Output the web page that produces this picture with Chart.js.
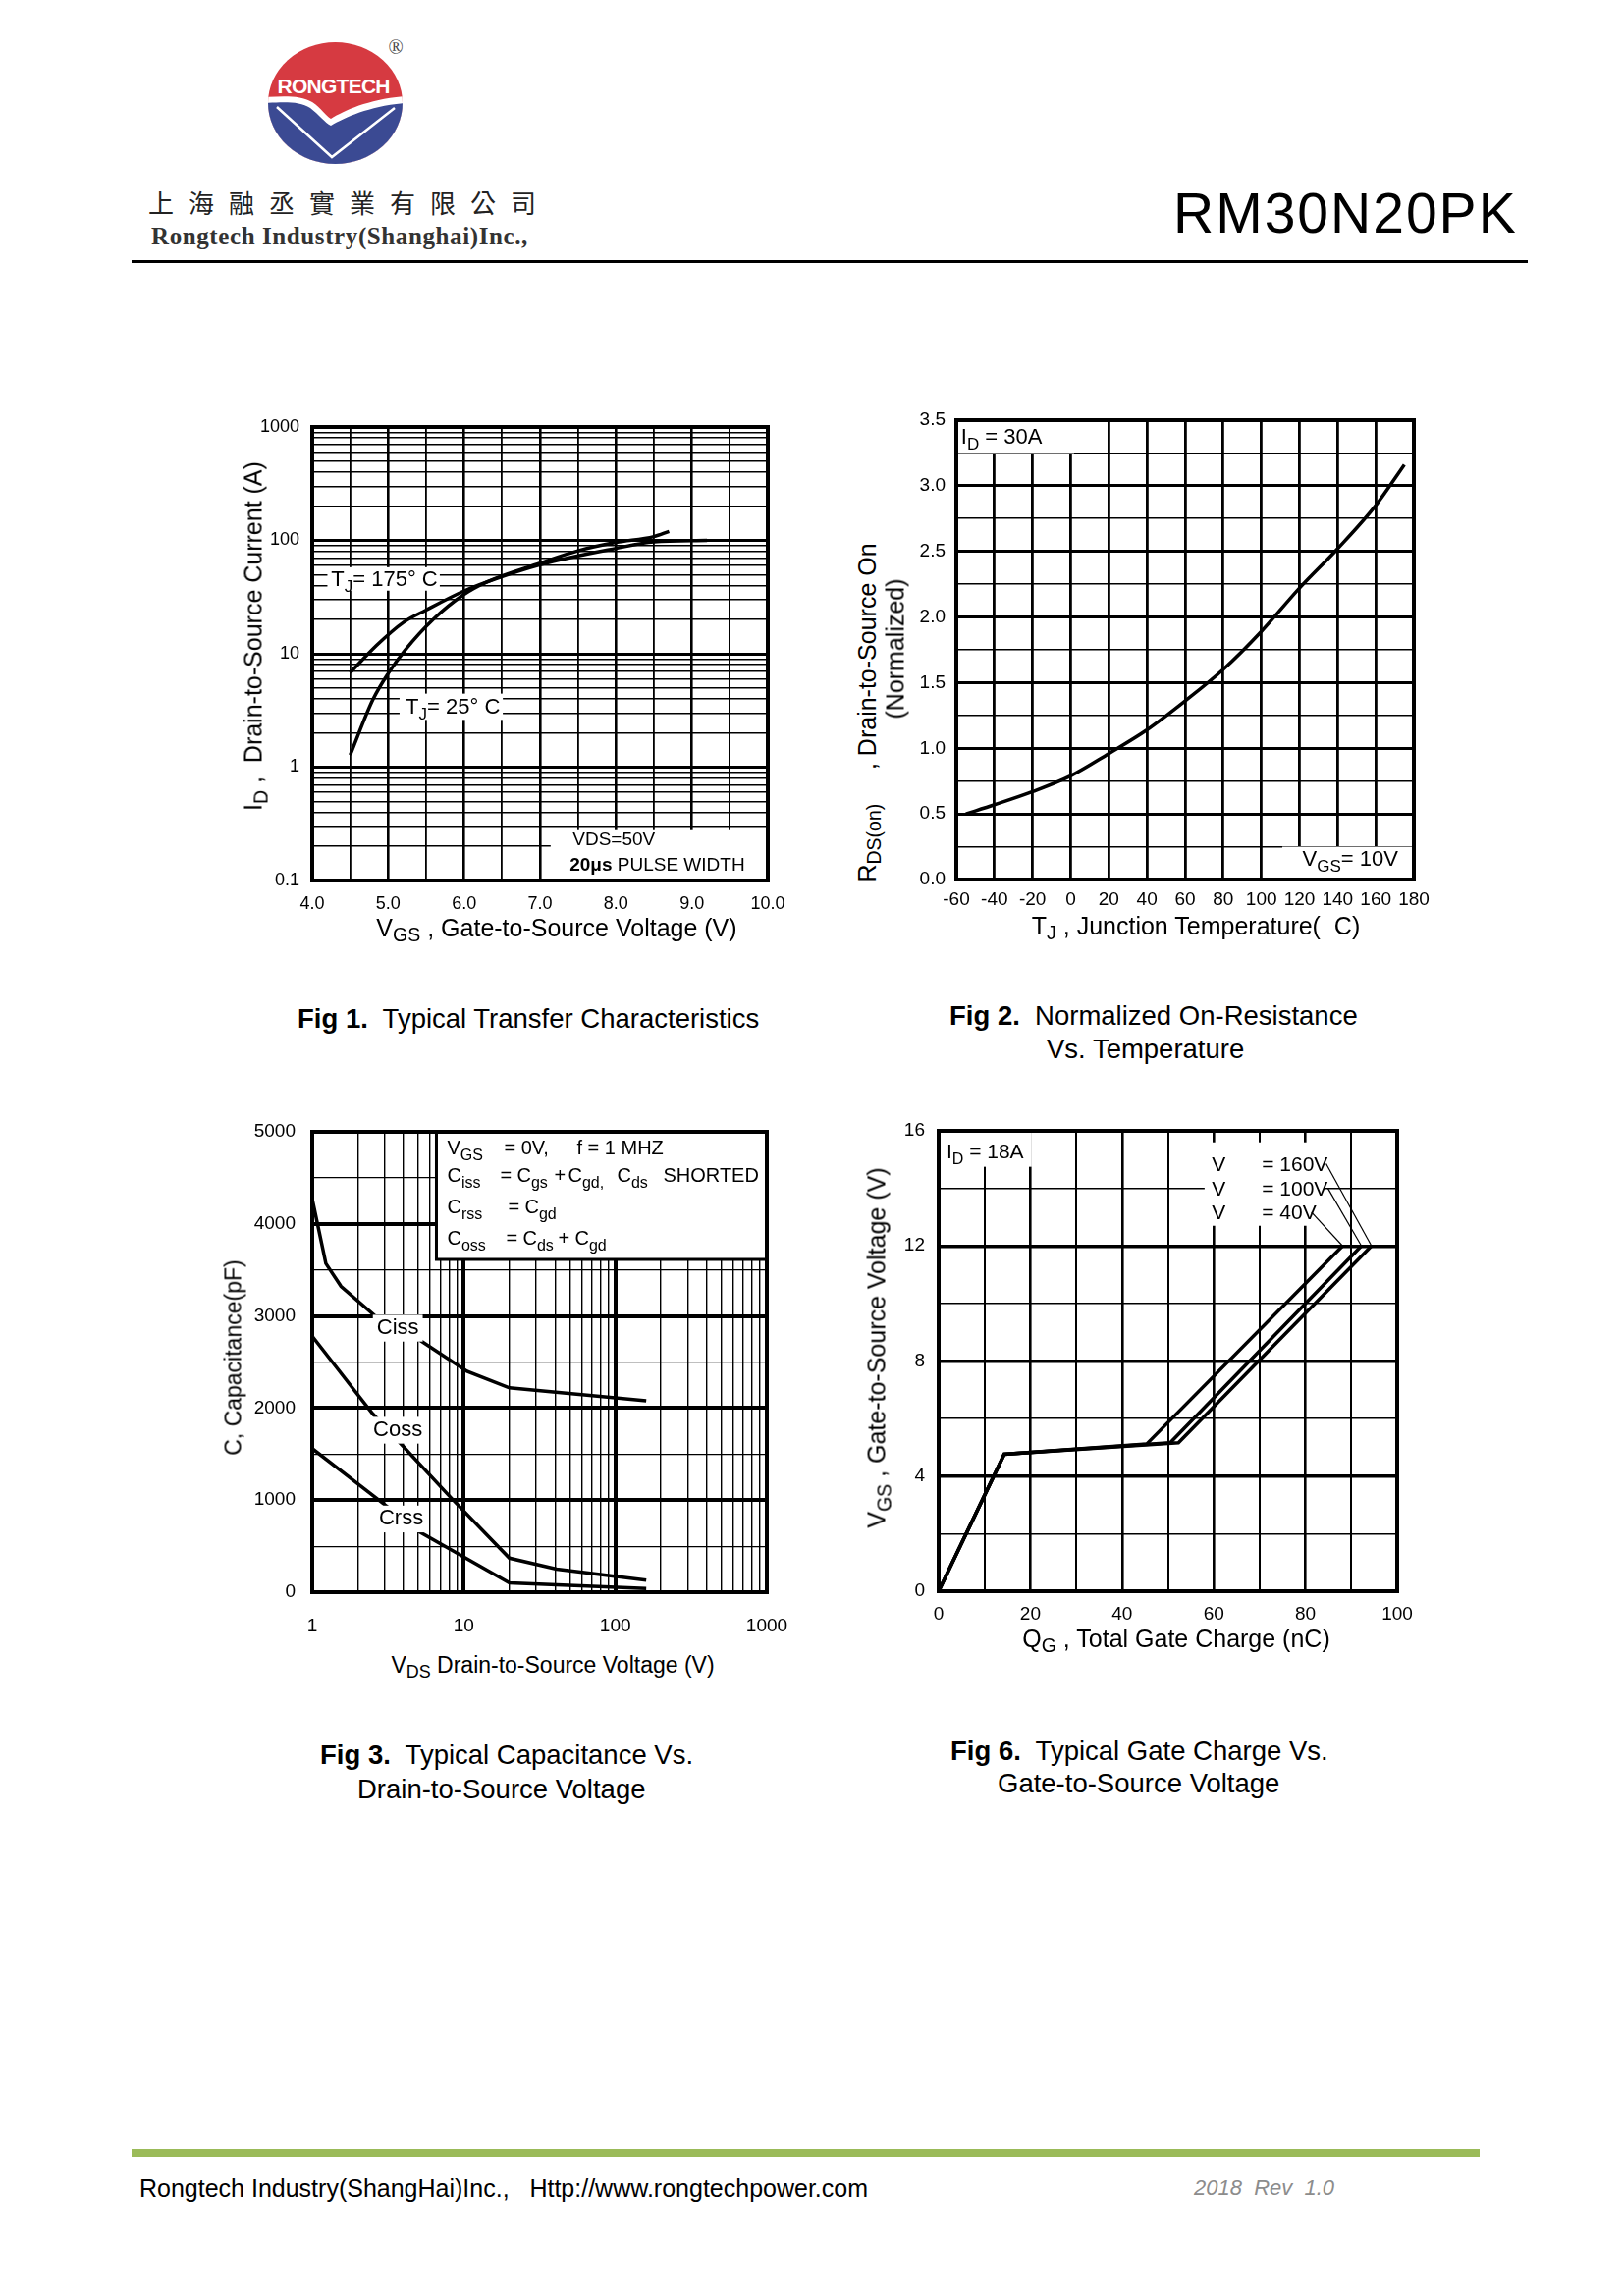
<!DOCTYPE html>
<html lang="en">
<head>
<meta charset="utf-8">
<title>RM30N20PK typical characteristics</title>
<script src="https://cdn.jsdelivr.net/npm/chart.js@4.4.1/dist/chart.umd.min.js"></script>
<style>
  html, body { margin: 0; padding: 0; background: #fff; }
  #page { position: relative; width: 1653px; height: 2339px; overflow: hidden;
          font-family: "Liberation Sans", Arial, sans-serif; color: #000; }
  .abs { position: absolute; white-space: nowrap; line-height: 1; }
  .rot { transform: translate(-50%, -50%) rotate(-90deg); }
  .ctr { transform: translate(-50%, -50%); }
  canvas { position: absolute; }
  sub { font-size: 0.78em; vertical-align: -0.3em; line-height: 0; }
  .cap { font-size: 27.5px; }
  .axt { font-size: 25px; }
</style>
</head>
<body>
<div id="page">

  <!-- header -->
  <svg class="abs" style="left:260px;top:30px" width="170" height="150" viewBox="260 30 170 150">
    <defs><clipPath id="disc"><ellipse cx="341.5" cy="105" rx="68.5" ry="62"/></clipPath></defs>
    <g clip-path="url(#disc)">
      <rect x="260" y="30" width="170" height="150" fill="#d63a41"/>
      <path d="M268 99 C290 98 306 97 318 104 C327 110 332 118 337 121 C352 112 376 101 414 98 L414 180 L268 180 Z" fill="#fff"/>
      <path d="M268 105 C290 104 305 103 316 110 C325 117 331 125 337 128 C353 119 377 108 414 105 L414 180 L268 180 Z" fill="#3b4a93"/>
      <path d="M282 109 L338 160 L402 110" fill="none" stroke="#fff" stroke-width="2.5"/>
    </g>
    <text x="340" y="95" text-anchor="middle" font-family="Liberation Sans" font-weight="bold" font-size="21" textLength="115" fill="#fff">RONGTECH</text>
    <text x="403" y="55" text-anchor="middle" font-family="Liberation Serif" font-size="20" fill="#444">®</text>
  </svg>
  <div class="abs" style="left:151px;top:193px;font-size:26px;letter-spacing:15px;font-family:'Noto Sans CJK TC';color:#222">上海融丞實業有限公司</div>
  <div class="abs" style="left:154px;top:228px;font-size:25px;letter-spacing:0.6px;font-family:'Liberation Serif',serif;font-weight:bold;color:#333">Rongtech Industry(Shanghai)Inc.,</div>
  <div class="abs" style="left:1195px;top:189px;font-size:57px;letter-spacing:2px">RM30N20PK</div>
  <div class="abs" style="left:134px;top:265px;width:1422px;height:3px;background:#000"></div>

  <!-- charts -->
  <canvas id="fig1" width="594" height="537" style="left:238px;top:405px"></canvas>
  <canvas id="fig2" width="586" height="543" style="left:904px;top:398px"></canvas>
  <canvas id="fig3" width="593" height="554" style="left:238px;top:1123px"></canvas>
  <canvas id="fig6" width="587" height="544" style="left:886px;top:1122px"></canvas>

  <!-- axis titles -->
  <div class="abs rot axt" style="left:258px;top:648px">I<sub>D</sub> ,&nbsp; Drain-to-Source Current (A)</div>
  <div class="abs ctr axt" style="left:567px;top:945px">V<sub>GS</sub> , Gate-to-Source Voltage (V)</div>
  <div class="abs rot axt" style="left:883px;top:726px">R<sub>DS(on)</sub>&nbsp;&nbsp;&nbsp;&nbsp; , Drain-to-Source On</div>
  <div class="abs rot axt" style="left:912px;top:661px">(Normalized)</div>
  <div class="abs ctr axt" style="left:1218px;top:943px">T<sub>J</sub> , Junction Temperature(&nbsp; C)</div>
  <div class="abs rot" style="left:238px;top:1383px;font-size:23px">C, Capacitance(pF)</div>
  <div class="abs ctr" style="left:563px;top:1696px;font-size:23px">V<sub>DS</sub> Drain-to-Source Voltage (V)</div>
  <div class="abs rot axt" style="left:893px;top:1373px">V<sub>GS</sub> , Gate-to-Source Voltage (V)</div>
  <div class="abs ctr axt" style="left:1198px;top:1669px">Q<sub>G</sub> , Total Gate Charge (nC)</div>

  <!-- captions -->
  <div class="abs cap" style="left:303px;top:1024px"><b>Fig 1.</b>&nbsp; Typical Transfer Characteristics</div>
  <div class="abs cap" style="left:967px;top:1021px"><b>Fig 2.</b>&nbsp; Normalized On-Resistance</div>
  <div class="abs cap" style="left:1066px;top:1055px">Vs. Temperature</div>
  <div class="abs cap" style="left:326px;top:1774px"><b>Fig 3.</b>&nbsp; Typical Capacitance Vs.</div>
  <div class="abs cap" style="left:364px;top:1809px">Drain-to-Source Voltage</div>
  <div class="abs cap" style="left:968px;top:1770px"><b>Fig 6.</b>&nbsp; Typical Gate Charge Vs.</div>
  <div class="abs cap" style="left:1016px;top:1803px">Gate-to-Source Voltage</div>

  <!-- footer -->
  <div class="abs" style="left:134px;top:2189px;width:1373px;height:8px;background:#9bbb59"></div>
  <div class="abs" style="left:142px;top:2217px;font-size:25px">Rongtech Industry(ShangHai)Inc.,&nbsp;&nbsp; Http://www.rongtechpower.com</div>
  <div class="abs" style="left:1216px;top:2218px;font-size:22px;font-style:italic;color:#8c8c8c">2018&nbsp; Rev&nbsp; 1.0</div>
</div>

<script>
// Fig 1 - transfer characteristics (log current)
const vgsHot = [4.5, 4.85, 5.2, 5.5, 6.0, 6.3, 7.0, 8.0, 8.5, 9.2];
const idHot = [6.8, 11.9, 18.9, 24.3, 35.8, 43, 61, 85, 97, 100];
const vgsCold = [4.5, 4.8, 5.0, 5.22, 5.6, 6.0, 6.3, 7.0, 7.5, 8.0, 8.5, 8.7];
const idCold = [1.28, 3.95, 6.7, 10.7, 20.3, 33.4, 43, 63, 81, 96, 108, 120];
const vgsTickLabels = ['4.0', '5.0', '6.0', '7.0', '8.0', '9.0', '10.0'];
const idTickLabels = ['0.1', '1', '10', '100', '1000'];

// Fig 2 - normalized on-resistance vs temperature
const tjC = [-55, -40, -20, 0, 20, 40, 60, 80, 100, 120, 140, 160, 175];
const rdsNorm = [0.50, 0.57, 0.67, 0.79, 0.96, 1.14, 1.36, 1.60, 1.89, 2.22, 2.52, 2.85, 3.16];
const tjTickLabels = ['-60', '-40', '-20', '0', '20', '40', '60', '80', '100', '120', '140', '160', '180'];
const rdsTickLabels = ['0.0', '0.5', '1.0', '1.5', '2.0', '2.5', '3.0', '3.5'];

// Fig 3 - capacitance vs VDS
const cissV = [1, 1.23, 1.55, 2.6, 5.1, 10.5, 20, 65, 160];
const ciss = [4270, 3570, 3320, 3000, 2740, 2400, 2220, 2140, 2080];
const cossV = [1, 2.5, 4, 8.3, 20, 41, 160];
const coss = [2780, 1940, 1580, 1020, 370, 250, 130];
const crssV = [1, 2.66, 5.1, 8.8, 20, 160];
const crss = [1560, 1020, 655, 435, 100, 40];
const vdsTickLabels = ['1', '10', '100', '1000'];
const capTickLabels = ['0', '1000', '2000', '3000', '4000', '5000'];

// Fig 6 - gate charge (VDS = 40 / 100 / 160 V)
const qg40 = [0, 14.3, 45.4, 88.1];
const vg40 = [0, 4.76, 5.12, 12];
const qg100 = [0, 14.3, 50.5, 92.2];
const vg100 = [0, 4.76, 5.16, 12];
const qg160 = [0, 14.3, 52.3, 94.4];
const vg160 = [0, 4.76, 5.16, 12];
const leadStartQ = [81.3, 84.9, 84.5];   // 40V, 100V, 160V label ends
const leadStartV = [13.17, 14.0, 14.86];
const qgTickLabels = ['0', '20', '40', '60', '80', '100'];
const vgTickLabels = ['0', '4', '8', '12', '16'];

const FONT = '"Liberation Sans", Arial, sans-serif';
Chart.defaults.font.family = FONT;
Chart.defaults.color = '#000';

// gridline positions
function logGrid(fromExp, toExp) {
    const out = [];
    for (let e = fromExp; e < toExp; e++) {
        for (let m = 1; m < 10; m++) out.push(Number((m * Math.pow(10, e)).toPrecision(6)));
    }
    out.push(Math.pow(10, toExp));
    return out;
}
function steps(from, to, step) {
    const out = [];
    for (let v = from; v <= to + step / 1000; v += step) out.push(Number(v.toFixed(6)));
    return out;
}
const isDecade = v => Math.abs(Math.log10(v) - Math.round(Math.log10(v))) < 1e-9;

function labelFor(list, v) {
    const hit = list.find(s => Math.abs(parseFloat(s) - v) < 1e-6 * Math.max(1, Math.abs(v)));
    return hit === undefined ? '' : hit;
}

function series(xs, ys, width, smooth) {
    return {
        data: xs.map((x, i) => ({ x: x, y: ys[i] })),
        showLine: true,
        borderColor: '#000',
        borderWidth: width,
        pointRadius: 0,
        fill: false,
        tension: 0,
        cubicInterpolationMode: smooth ? 'monotone' : 'default'
    };
}

function axis(a, dir) {
    return {
        type: a.log ? 'logarithmic' : 'linear',
        min: a.min,
        max: a.max,
        afterBuildTicks: s => { s.ticks = a.grid.map(v => ({ value: v })); },
        afterFit: s => { if (dir === 'x') s.height = a.size; else s.width = a.size; },
        border: { display: false },
        grid: {
            color: '#000',
            drawTicks: false,
            lineWidth: c => (c.tick ? a.weight(c.tick.value) : 1)
        },
        ticks: {
            autoSkip: false, maxRotation: 0, minRotation: 0,
            padding: a.pad, color: '#000',
            font: { size: a.font },
            callback: v => labelFor(a.labels, v)
        }
    };
}

// plot frame on top of everything
function frame(c, w) {
    const { ctx, chartArea: a } = c;
    ctx.save();
    ctx.strokeStyle = '#000';
    ctx.lineWidth = w;
    ctx.strokeRect(a.left, a.top, a.right - a.left, a.bottom - a.top);
    ctx.restore();
}

// white patch given in data units
function blank(c, x0, y0, x1, y1) {
    const { ctx, scales: { x, y } } = c;
    const px0 = x.getPixelForValue(x0), px1 = x.getPixelForValue(x1);
    const py0 = y.getPixelForValue(y0), py1 = y.getPixelForValue(y1);
    ctx.save();
    ctx.fillStyle = '#fff';
    ctx.fillRect(Math.min(px0, px1), Math.min(py0, py1), Math.abs(px1 - px0), Math.abs(py1 - py0));
    ctx.restore();
}

// text with subscripts: parts = [[text, 'sub'|'bold'|undefined], ...]
function rich(ctx, x, y, parts, size) {
    ctx.save();
    ctx.fillStyle = '#000';
    ctx.textAlign = 'left';
    ctx.textBaseline = 'alphabetic';
    for (const [t, kind] of parts) {
        const s = kind === 'sub' ? Math.round(size * 0.78) : size;
        ctx.font = (kind === 'bold' ? 'bold ' : '') + s + 'px ' + FONT;
        ctx.fillText(t, x, kind === 'sub' ? y + size * 0.28 : y);
        x += ctx.measureText(t).width;
    }
    ctx.restore();
    return x;
}
function say(c, xv, yv, parts, size) {
    rich(c.ctx, c.scales.x.getPixelForValue(xv), c.scales.y.getPixelForValue(yv), parts, size);
}

// label centred on a data point, on a white patch that hides what is under it
function tag(c, xv, yv, text, size) {
    const ctx = c.ctx;
    const px = c.scales.x.getPixelForValue(xv), py = c.scales.y.getPixelForValue(yv);
    ctx.save();
    ctx.font = size + 'px ' + FONT;
    const w = ctx.measureText(text).width;
    ctx.fillStyle = '#fff';
    ctx.fillRect(px - w / 2 - 4, py - size * 0.62, w + 8, size * 1.24);
    ctx.fillStyle = '#000';
    ctx.textAlign = 'center';
    ctx.textBaseline = 'middle';
    ctx.fillText(text, px, py);
    ctx.restore();
}

// padding is kept larger than the scales' own label padding so the plot box lands exactly
function buildChart(id, cfg) {
    return new Chart(document.getElementById(id), {
        type: 'scatter',
        data: { datasets: cfg.datasets },
        options: {
            responsive: false,
            animation: false,
            events: [],
            layout: { padding: { top: 30, right: 50, left: 0, bottom: 0 }, autoPadding: false },
            plugins: { legend: { display: false }, tooltip: { enabled: false } },
            scales: { x: axis(cfg.x, 'x'), y: axis(cfg.y, 'y') }
        },
        plugins: [{
            id: 'notes',
            beforeDatasetsDraw: c => { if (cfg.under) cfg.under(c); },
            afterDatasetsDraw: c => { if (cfg.over) cfg.over(c); frame(c, 4); }
        }]
    });
}

// Fig 1
buildChart('fig1', {
    datasets: [series(vgsHot, idHot, 3.5, true), series(vgsCold, idCold, 3.5, true)],
    x: { min: 4, max: 10, grid: steps(4, 10, 0.5), labels: vgsTickLabels, size: 45, pad: 13, font: 18,
         weight: v => (Number.isInteger(v) ? 2.6 : 1.8) },
    y: { log: true, min: 0.1, max: 1000, grid: logGrid(-1, 3), labels: idTickLabels, size: 80, pad: 13, font: 18,
         weight: v => (isDecade(v) ? 3 : 1.5) },
    under: c => {
        blank(c, 4.2, 36, 5.68, 58);
        blank(c, 5.15, 2.61, 6.51, 4.45);
        blank(c, 7.14, 0.1, 10, 0.278);
        say(c, 4.25, 39.8, [['T'], ['J', 'sub'], ['= 175° C']], 22);
        say(c, 5.23, 2.96, [['T'], ['J', 'sub'], ['= 25° C']], 22);
        say(c, 7.43, 0.206, [['VDS=50V']], 19);
        say(c, 7.39, 0.121, [['20μs', 'bold'], [' PULSE WIDTH']], 19);
    }
});

// Fig 2
buildChart('fig2', {
    datasets: [series(tjC, rdsNorm, 3.5, true)],
    x: { min: -60, max: 180, grid: steps(-60, 180, 20), labels: tjTickLabels, size: 45, pad: 9, font: 19,
         weight: () => 2.8 },
    y: { min: 0, max: 3.5, grid: steps(0, 3.5, 0.25), labels: rdsTickLabels, size: 70, pad: 11, font: 19,
         weight: v => (Math.abs(v * 2 - Math.round(v * 2)) < 1e-9 ? 3 : 1.6) },
    under: c => {
        blank(c, -60, 3.25, 1.8, 3.5);
        blank(c, 111, 0, 180, 0.25);
        say(c, -57.5, 3.32, [['I'], ['D', 'sub'], [' = 30A']], 22);
        say(c, 121.6, 0.104, [['V'], ['GS', 'sub'], ['= 10V']], 22);
    }
});

// Fig 3
buildChart('fig3', {
    datasets: [series(cissV, ciss, 3.5, false), series(cossV, coss, 3.5, false), series(crssV, crss, 3.5, false)],
    x: { log: true, min: 1, max: 1000, grid: logGrid(0, 3), labels: vdsTickLabels, size: 55, pad: 23, font: 19,
         weight: v => (isDecade(v) && v > 1 && v < 1000 ? 4 : 1.4) },
    y: { min: 0, max: 5000, grid: steps(0, 5000, 500), labels: capTickLabels, size: 80, pad: 17, font: 19,
         weight: v => (v % 1000 === 0 ? 4 : 1.2) },
    under: c => {
        const ctx = c.ctx;
        const bx = c.scales.x.getPixelForValue(6.6), by = c.scales.y.getPixelForValue(5000);
        const bx1 = c.scales.x.getPixelForValue(1000), by1 = c.scales.y.getPixelForValue(3614);
        ctx.save();
        ctx.fillStyle = '#fff';
        ctx.fillRect(bx, by, bx1 - bx, by1 - by);
        ctx.strokeStyle = '#000';
        ctx.lineWidth = 3;
        ctx.strokeRect(bx, by, bx1 - bx, by1 - by);
        ctx.restore();
        const f = 20;
        rich(ctx, bx + 11, by + 23, [['V'], ['GS', 'sub']], f);
        rich(ctx, bx + 69, by + 23, [['= 0V,']], f);
        rich(ctx, bx + 143, by + 23, [['f = 1 MHZ']], f);
        rich(ctx, bx + 11, by + 51, [['C'], ['iss', 'sub']], f);
        rich(ctx, bx + 65, by + 51, [['=']], f);
        rich(ctx, bx + 82, by + 51, [['C'], ['gs', 'sub']], f);
        rich(ctx, bx + 120, by + 51, [['+']], f);
        rich(ctx, bx + 134, by + 51, [['C'], ['gd,', 'sub']], f);
        rich(ctx, bx + 184, by + 51, [['C'], ['ds', 'sub']], f);
        rich(ctx, bx + 231, by + 51, [['SHORTED']], f);
        rich(ctx, bx + 11, by + 83, [['C'], ['rss', 'sub']], f);
        rich(ctx, bx + 73, by + 83, [['=']], f);
        rich(ctx, bx + 90, by + 83, [['C'], ['gd', 'sub']], f);
        rich(ctx, bx + 11, by + 115, [['C'], ['oss', 'sub']], f);
        rich(ctx, bx + 71, by + 115, [['=']], f);
        rich(ctx, bx + 88, by + 115, [['C'], ['ds', 'sub']], f);
        rich(ctx, bx + 124, by + 115, [['+']], f);
        rich(ctx, bx + 141, by + 115, [['C'], ['gd', 'sub']], f);
    },
    over: c => {
        tag(c, 3.67, 2867, 'Ciss', 22);
        tag(c, 3.67, 1759, 'Coss', 22);
        tag(c, 3.86, 795, 'Crss', 22);
    }
});

// Fig 6
const gateSets = [[qg40, vg40], [qg100, vg100], [qg160, vg160]];
const leaders = gateSets.map(([q, v], i) =>
    series([leadStartQ[i], q[q.length - 1]], [leadStartV[i], v[v.length - 1]], 1.2, false));
buildChart('fig6', {
    datasets: gateSets.map(([q, v]) => series(q, v, 3.5, false)).concat(leaders),
    x: { min: 0, max: 100, grid: steps(0, 100, 10), labels: qgTickLabels, size: 45, pad: 12, font: 19,
         weight: v => (v % 20 === 0 ? 2.6 : 2) },
    y: { min: 0, max: 16, grid: steps(0, 16, 2), labels: vgTickLabels, size: 70, pad: 14, font: 19,
         weight: v => (v % 4 === 0 ? 3.5 : 1.6) },
    under: c => {
        blank(c, 0, 14.75, 20.3, 16);
        blank(c, 58, 12.7, 84.3, 15.6);
        say(c, 1.7, 15.05, [['I'], ['D', 'sub'], [' = 18A']], 21);
        say(c, 59.6, 14.61, [['V']], 21);
        say(c, 70.5, 14.61, [['= 160V']], 21);
        say(c, 59.6, 13.76, [['V']], 21);
        say(c, 70.5, 13.76, [['= 100V']], 21);
        say(c, 59.6, 12.93, [['V']], 21);
        say(c, 70.5, 12.93, [['= 40V']], 21);
    }
});
</script>
</body>
</html>
